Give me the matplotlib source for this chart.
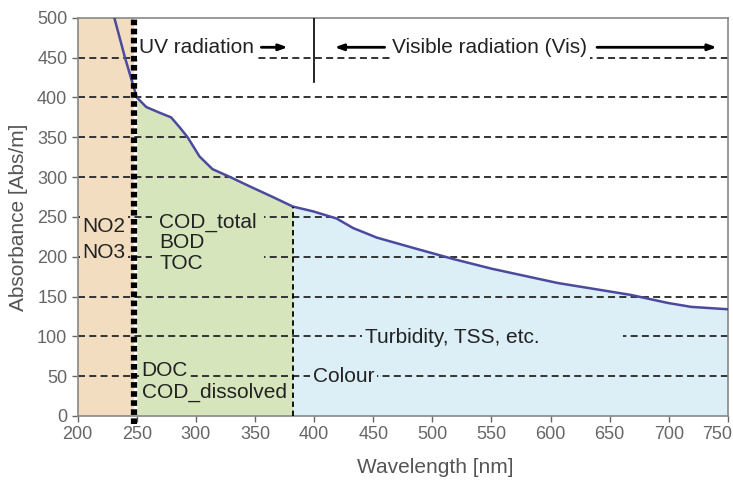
import numpy as np
import matplotlib.pyplot as plt
import matplotlib.transforms as mtransforms

plt.rcParams['font.family'] = ['Liberation Sans', 'DejaVu Sans']

# absorbance spectrum
wavelength = [231, 240, 246, 250, 258, 269, 279, 286, 293, 303, 314, 329, 346, 365,
              382, 399, 419, 433, 453, 484, 518, 550, 606, 668, 699, 719, 750]
absorbance = [500, 450, 420, 400, 388, 381, 375, 363, 350, 326, 310, 300, 288, 275,
              263, 257, 248, 236, 224, 211, 197, 185, 167, 152, 142, 137, 134]

# region borders [nm]
uv_edge = 248
vis_edge = 382
uv_vis_mark = 400

grid_levels = [50, 100, 150, 200, 250, 300, 350, 400, 450]
x_ticks = list(range(200, 751, 50))
y_ticks = list(range(0, 501, 50))

c_orange = '#F2DDC1'
c_green = '#D7E5BC'
c_blue = '#DCEEF6'
c_curve = '#4B4A9E'
c_grey = '#666666'

fig = plt.figure(figsize=(7.33, 4.82), dpi=100)
ax = fig.add_axes([0.106, 0.137, 0.887, 0.826])
ax.set_xlim(200, 750)
ax.set_ylim(0, 500)

wl = np.array(wavelength, dtype=float)
ab = np.array(absorbance, dtype=float)

# coloured areas
ax.axvspan(200, uv_edge, color=c_orange, lw=0, zorder=0)
ax.fill_between(wl, ab, 0, where=(wl >= uv_edge) & (wl <= vis_edge),
                color=c_green, lw=0, zorder=0)
ax.fill_between(wl, ab, 0, where=wl >= vis_edge, color=c_blue, lw=0, zorder=0)

# dashed grid
for lev in grid_levels:
    ax.axhline(lev, color='#333333', lw=1.4, ls=(0, (3.6, 2.2)), zorder=1)

ax.plot(wl, ab, color=c_curve, lw=1.8, zorder=3)

# vertical borders
ax.plot([uv_edge, uv_edge], [-10, 500], color='black', lw=4.5,
        ls=(0, (0.9, 0.55)), clip_on=False, zorder=4)
ax.plot([vis_edge, vis_edge], [0, np.interp(vis_edge, wl, ab)], color='black',
        lw=1.3, ls=(0, (3, 2)), zorder=4)
ax.plot([uv_vis_mark, uv_vis_mark], [420, 500], color='black', lw=1.2, zorder=4)

fs = 15
txt = dict(fontsize=fs, color='#222222', zorder=5, va='center', ha='left')

def box(fc, pad=0.12):
    return dict(boxstyle=f'square,pad={pad}', fc=fc, ec='none')

ax.text(252, 463, 'UV radiation', bbox=box('white'), **txt)
ax.text(466, 463, 'Visible radiation (Vis)', bbox=box('white'), **txt)
arrow = dict(arrowstyle='-|>,head_length=0.5,head_width=0.18', color='black', lw=2)
ax.annotate('', xy=(380, 463), xytext=(353, 463), arrowprops=arrow, zorder=5)
ax.annotate('', xy=(415, 463), xytext=(462, 463), arrowprops=arrow, zorder=5)
ax.annotate('', xy=(743, 463), xytext=(637, 463), arrowprops=arrow, zorder=5)

ax.text(204, 238, 'NO2', bbox=box(c_orange), **txt)
ax.text(204, 205, 'NO3', bbox=box(c_orange), **txt)
ax.text(269, 218, 'COD_total\nBOD\nTOC', linespacing=1.1,
        bbox=box(c_green, 0.35), **txt)
ax.text(254, 57, 'DOC', bbox=box(c_green), **txt)
ax.text(254, 30, 'COD_dissolved', bbox=box(c_green), **txt)
ax.text(399, 49, 'Colour', bbox=box(c_blue), **txt)
ax.text(443, 99, 'Turbidity, TSS, etc.              ', bbox=box(c_blue), **txt)

# axes styling
ax.set_xticks(x_ticks)
ax.set_yticks(y_ticks)
ax.tick_params(labelsize=13, colors=c_grey, length=4, width=1)
for s in ax.spines.values():
    s.set_color('#888888')
    s.set_linewidth(1.2)
ax.set_xlabel('Wavelength [nm]', fontsize=15, color='#555555')
ax.set_ylabel('Absorbance [Abs/m]', fontsize=15, color='#555555')
ax.xaxis.set_label_coords(0.55, -0.105)
ax.yaxis.set_label_coords(-0.077, 0.5)

# keep the last x label inside the picture
last = ax.get_xticklabels()[-1]
last.set_transform(last.get_transform() +
                   mtransforms.ScaledTranslation(-8 / 72, 0, fig.dpi_scale_trans))

fig.savefig('out.png', dpi=100)
